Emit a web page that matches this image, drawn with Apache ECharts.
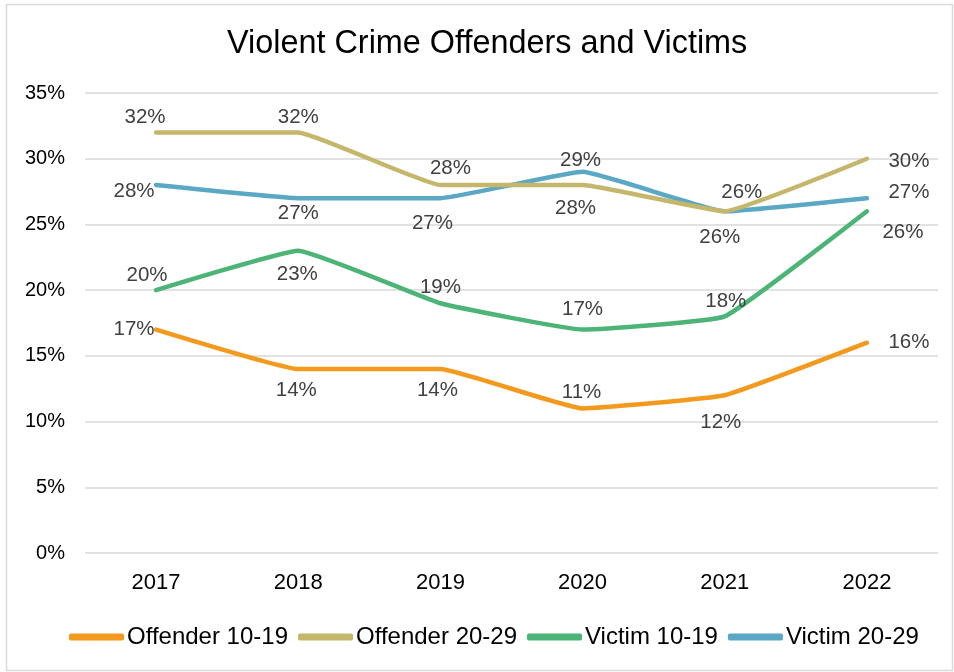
<!DOCTYPE html>
<html><head><meta charset="utf-8">
<script src="https://cdn.jsdelivr.net/npm/echarts@6/dist/echarts.min.js"></script>
<style>html,body{margin:0;padding:0;background:#fff}#c{width:954px;height:672px}</style>
</head><body><div id="c"></div>
<script>
var years = ['2017','2018','2019','2020','2021','2022'];
var offender1019 = [17,14,14,11,12,16];
var offender2029 = [32,32,28,28,26,30];
var victim1019 = [20,23,19,17,18,26];
var victim2029 = [28,27,27,29,26,27];
var seriesNames = ['Offender 10-19','Offender 20-29','Victim 10-19','Victim 20-29'];
var colors = ['#F39A1E','#C4B76B','#4DB477','#5BA8C5'];
// label offsets from the point (pixels), styling only
var labelOffsets = [
  [[-22,0],[-2,21],[-3,21],[-1,-16],[-4,27],[42,0]],
  [[-11,-15],[0,-15],[10,-17],[-7,23],[-5,26],[42,3]],
  [[-9,-15],[-1,24],[0,-16],[0,-20],[1,-15],[36,21]],
  [[-22,6],[0,15],[-8,25],[-2,-12],[17,-19],[42,-6]]
];
var FONT = 'Liberation Sans';
var SYM = 2;
var chart = echarts.init(document.getElementById('c'));
var all = [offender1019, offender2029, victim1019, victim2029];
var series = all.map(function(arr, i){
  return {
    name: seriesNames[i], type:'line', smooth:0.1,
    symbol:'circle', symbolSize:SYM, showSymbol:true,
    lineStyle:{width:4.5, color:colors[i], cap:'round', join:'round'},
    itemStyle:{color:colors[i]},
    data: arr.map(function(v,j){
      var o = labelOffsets[i][j];
      return {value:v, label:{show:true, position:[SYM/2 + o[0], SYM/2 + o[1]], align:'center', verticalAlign:'middle'}};
    }),
    label:{show:true, formatter:'{c}%', color:'#404040', fontSize:20.5, fontFamily:FONT, opacity:1},
    labelLayout:{hideOverlap:false},
    z: 10-i
  };
});
chart.setOption({
  animation:false,
  textStyle:{fontFamily:FONT},
  title:{text:'Violent Crime Offenders and Victims', left:222, top:23,
    textStyle:{fontSize:32.4, fontWeight:'normal', color:'#000', fontFamily:FONT}},
  grid:{left:85, right:16, top:93, bottom:119},
  legend:{top:620, left:64, itemWidth:55, itemHeight:7, itemGap:10,
    icon:'roundRect',
    textStyle:{fontSize:24, color:'#000', fontFamily:FONT, padding:[0,0,0,-2]},
    data:seriesNames},
  xAxis:{type:'category', data:years, boundaryGap:true,
    axisLine:{show:false}, axisTick:{show:false},
    axisLabel:{fontSize:22, color:'#000', margin:19, fontFamily:FONT}},
  yAxis:{type:'value', min:0, max:35, interval:5,
    axisLabel:{formatter:'{value}%', fontSize:20, color:'#000', margin:20, fontFamily:FONT},
    splitLine:{lineStyle:{color:'#D9D9D9', width:1.5}},
    axisLine:{show:false}, axisTick:{show:false}},
  graphic:[{type:'rect', shape:{x:6.5,y:4.5,width:946,height:666}, style:{fill:'none', stroke:'#D9D9D9', lineWidth:1.5}, silent:true}],
  series:series
});
</script></body></html>
